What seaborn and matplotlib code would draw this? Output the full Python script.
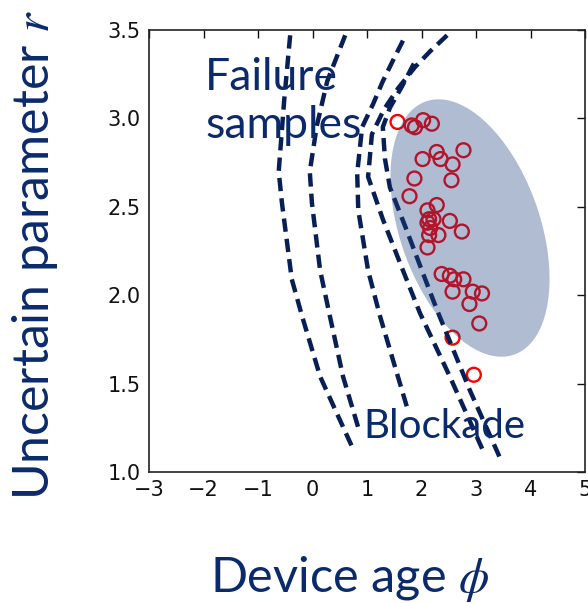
import numpy as np
import pandas as pd
import matplotlib
matplotlib.use("Agg")
import matplotlib.pyplot as plt
import seaborn as sns

# ---- data ----
fail_phi = [1.56, 1.82, 1.88, 2.03, 2.19, 2.02, 2.28, 2.35, 2.77, 2.57, 1.87, 2.55,
            1.78, 2.28, 2.11, 2.14, 2.22, 2.11, 2.52, 2.74, 2.16, 2.31, 2.14, 2.11,
            2.37, 2.52, 2.60, 2.77, 2.57, 2.94, 3.11, 2.88, 3.06, 2.57, 2.96]
fail_r = [2.98, 2.96, 2.95, 2.99, 2.97, 2.77, 2.81, 2.77, 2.82, 2.74, 2.66, 2.65,
          2.56, 2.51, 2.48, 2.43, 2.43, 2.41, 2.42, 2.36, 2.38, 2.34, 2.34, 2.27,
          2.12, 2.11, 2.09, 2.09, 2.02, 2.02, 2.01, 1.95, 1.84, 1.76, 1.55]

curve_a_phi = [-0.41, -0.52, -0.62, -0.56, -0.38, -0.19, 0.14, 0.73]
curve_a_r = [3.47, 3.10, 2.70, 2.52, 2.09, 1.88, 1.54, 1.14]
curve_b_phi = [0.60, 0.27, 0.08, -0.05, -0.01, 0.14, 0.32, 0.56, 0.87]
curve_b_r = [3.47, 3.21, 2.96, 2.70, 2.52, 2.14, 1.88, 1.54, 1.22]
curve_c_phi = [1.66, 1.48, 1.29, 1.11, 0.91, 0.82, 0.84, 1.02, 1.24, 1.48, 1.75]
curve_c_r = [3.44, 3.33, 3.21, 3.08, 2.95, 2.69, 2.48, 2.14, 1.88, 1.63, 1.35]
curve_d_phi = [2.47, 2.16, 1.88, 1.57, 1.31, 1.09, 1.02, 1.29, 1.66, 1.97, 2.52, 3.13]
curve_d_r = [3.47, 3.38, 3.29, 3.17, 3.05, 2.91, 2.67, 2.43, 2.14, 1.90, 1.54, 1.12]
curve_e_phi = [1.86, 1.64, 1.42, 1.29, 1.33, 1.42, 1.70, 1.97, 2.28, 2.89, 3.44]
curve_e_r = [3.31, 3.18, 3.06, 2.95, 2.77, 2.61, 2.39, 2.17, 1.92, 1.46, 1.08]

region_center = (2.89, 2.38)
region_cov = [[2.13, -0.42], [-0.42, 0.53]]

x_ticks = [-3, -2, -1, 0, 1, 2, 3, 4, 5]
y_ticks = [1.0, 1.5, 2.0, 2.5, 3.0, 3.5]

# ---- style ----
sns.set_style("white")
plt.rcParams["font.family"] = ["Lato", "DejaVu Sans"]
plt.rcParams["mathtext.fontset"] = "stix"

NAVY_TXT = "#0b2a6c"
NAVY_LN = "#081f55"

fig = plt.figure(figsize=(5.88, 6.03), dpi=100)
ax = fig.add_axes([149 / 588, 1 - 472 / 603, 436 / 588, 442 / 603])

df_pts = pd.DataFrame({"phi": fail_phi, "r": fail_r})
sns.scatterplot(data=df_pts, x="phi", y="r", ax=ax, marker="o", s=100,
                facecolors="none", edgecolor="#ff0000", linewidth=1.7, zorder=3)

curves = [(curve_a_phi, curve_a_r), (curve_b_phi, curve_b_r), (curve_c_phi, curve_c_r),
          (curve_d_phi, curve_d_r), (curve_e_phi, curve_e_r)]
for cx, cy in curves:
    sns.lineplot(x=cx, y=cy, ax=ax, sort=False, estimator=None, color=NAVY_LN,
                 linewidth=3.2, linestyle=(0, (3.0, 1.6)), zorder=4)

# ellipse region (drawn over the points, semi-transparent)
t = np.linspace(0, 2 * np.pi, 200)
L = np.linalg.cholesky(np.array(region_cov))
pts = L @ np.vstack([np.cos(t), np.sin(t)])
ax.fill(region_center[0] + pts[0], region_center[1] + pts[1], color="#1f3f80",
        alpha=0.35, lw=0, zorder=5)

ax.set_xlim(-3, 5)
ax.set_ylim(1.0, 3.5)
ax.set_xticks(x_ticks)
ax.set_yticks(y_ticks)
ax.set_yticklabels([f"{v:.1f}" for v in y_ticks])
ax.tick_params(direction="in", length=6, width=1, top=True, right=True,
               labelsize=15, pad=6, colors="#111111")
for lab in ax.get_xticklabels() + ax.get_yticklabels():
    lab.set_family("DejaVu Sans")
for s in ax.spines.values():
    s.set_color("#222222")
    s.set_linewidth(1.2)

ax.text(-1.97, 3.35, "Failure\nsamples", ha="left", va="top", fontsize=32,
        color=NAVY_TXT, linespacing=1.22, zorder=6)
ax.text(0.93, 1.19, "Blockade", ha="left", va="baseline", fontsize=29,
        color=NAVY_TXT, zorder=6)

ax.set_xlabel(r"Device age $\phi$", fontsize=35, color=NAVY_TXT)
ax.set_ylabel(r"Uncertain parameter $r$", fontsize=36, color=NAVY_TXT)
ax.xaxis.set_label_coords(0.46, -0.185)
ax.yaxis.set_label_coords(-0.205, 0.49)

fig.savefig("out.png", dpi=100)
